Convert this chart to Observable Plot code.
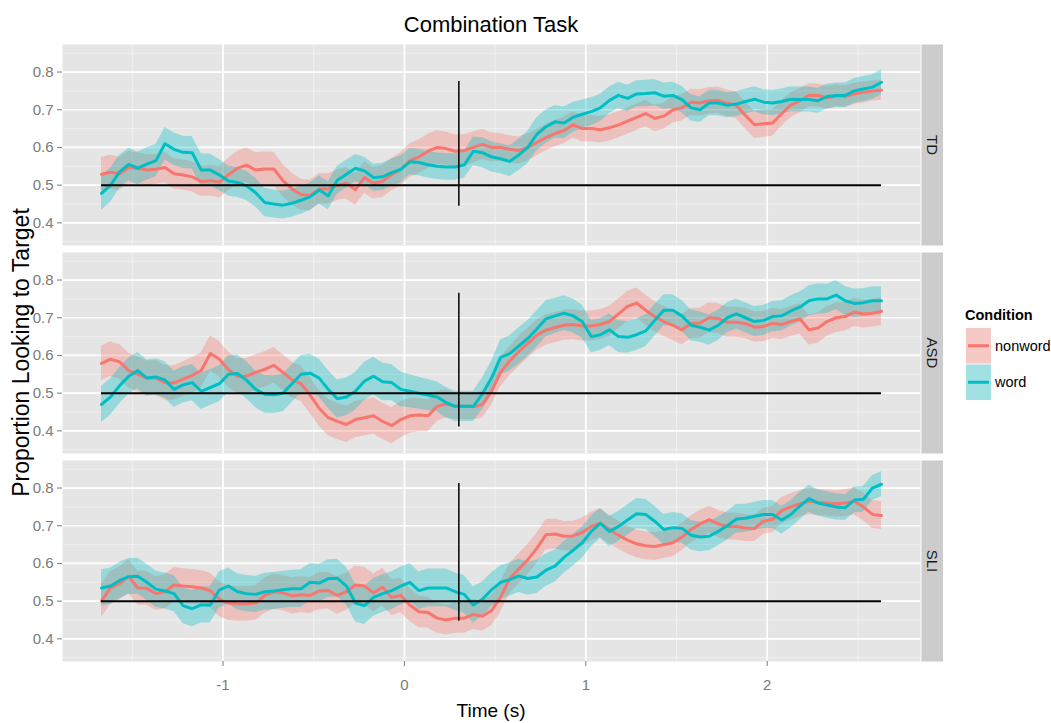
<!DOCTYPE html>
<html>
<head>
<meta charset="utf-8">
<script src="https://cdn.jsdelivr.net/npm/d3@7"></script>
<script src="https://cdn.jsdelivr.net/npm/@observablehq/plot@0.6"></script>
<style>
  html, body { margin: 0; padding: 0; background: #ffffff; }
  #chart { width: 1051px; height: 723px; }
</style>
</head>
<body>
<div id="chart"></div>
<script>
// ---------------- DATA ----------------
const times = [
  -1.67, -1.62, -1.57, -1.52, -1.47, -1.42, -1.37, -1.32, -1.27, -1.22,
  -1.17, -1.12, -1.07, -1.02, -0.97, -0.92, -0.87, -0.82, -0.77, -0.72,
  -0.67, -0.62, -0.57, -0.52, -0.47, -0.42, -0.37, -0.32, -0.27, -0.22,
  -0.17, -0.12, -0.07, -0.02, 0.03, 0.08, 0.13, 0.18, 0.23, 0.28,
  0.33, 0.38, 0.43, 0.48, 0.53, 0.58, 0.63, 0.68, 0.73, 0.78,
  0.83, 0.88, 0.93, 0.98, 1.03, 1.08, 1.13, 1.18, 1.23, 1.28,
  1.33, 1.38, 1.43, 1.48, 1.53, 1.58, 1.63, 1.68, 1.73, 1.78,
  1.83, 1.88, 1.93, 1.98, 2.03, 2.08, 2.13, 2.18, 2.23, 2.28,
  2.33, 2.38, 2.43, 2.48, 2.53, 2.58, 2.63
];

const tdNonword = [
  0.529, 0.534, 0.530, 0.547, 0.544, 0.540, 0.542, 0.547, 0.530, 0.527,
  0.522, 0.510, 0.512, 0.508, 0.528, 0.545, 0.553, 0.540, 0.543, 0.543,
  0.512, 0.490, 0.475, 0.473, 0.490, 0.490, 0.500, 0.505, 0.488, 0.520,
  0.505, 0.510, 0.528, 0.542, 0.565, 0.575, 0.590, 0.600, 0.597, 0.590,
  0.592, 0.600, 0.608, 0.600, 0.600, 0.595, 0.592, 0.600, 0.613, 0.626,
  0.637, 0.645, 0.660, 0.650, 0.650, 0.647, 0.652, 0.660, 0.670, 0.680,
  0.690, 0.677, 0.683, 0.700, 0.705, 0.720, 0.718, 0.724, 0.725, 0.717,
  0.712, 0.685, 0.660, 0.663, 0.665, 0.690, 0.712, 0.724, 0.738, 0.738,
  0.732, 0.737, 0.735, 0.742, 0.746, 0.750, 0.752
];
const tdWord = [
  0.478, 0.500, 0.535, 0.555, 0.545, 0.556, 0.565, 0.610, 0.595, 0.587,
  0.586, 0.540, 0.540, 0.527, 0.511, 0.507, 0.498, 0.480, 0.454, 0.450,
  0.447, 0.452, 0.460, 0.469, 0.487, 0.472, 0.513, 0.529, 0.545, 0.538,
  0.520, 0.522, 0.533, 0.542, 0.562, 0.560, 0.554, 0.550, 0.548, 0.548,
  0.554, 0.590, 0.586, 0.575, 0.570, 0.563, 0.580, 0.600, 0.635, 0.655,
  0.668, 0.665, 0.680, 0.688, 0.695, 0.705, 0.725, 0.738, 0.730, 0.742,
  0.743, 0.745, 0.736, 0.738, 0.727, 0.705, 0.700, 0.718, 0.718, 0.712,
  0.715, 0.722, 0.728, 0.720, 0.718, 0.722, 0.728, 0.727, 0.727, 0.724,
  0.735, 0.738, 0.738, 0.750, 0.755, 0.760, 0.773
];
const asdNonword = [
  0.579, 0.590, 0.583, 0.560, 0.550, 0.540, 0.540, 0.528, 0.527, 0.537,
  0.547, 0.560, 0.605, 0.590, 0.562, 0.545, 0.545, 0.555, 0.563, 0.574,
  0.555, 0.535, 0.525, 0.495, 0.460, 0.435, 0.425, 0.417, 0.430, 0.435,
  0.440, 0.425, 0.414, 0.430, 0.440, 0.442, 0.440, 0.465, 0.472, 0.465,
  0.465, 0.464, 0.470, 0.505, 0.555, 0.585, 0.610, 0.632, 0.654, 0.667,
  0.674, 0.680, 0.682, 0.678, 0.678, 0.682, 0.690, 0.710, 0.730, 0.739,
  0.720, 0.703, 0.690, 0.680, 0.668, 0.685, 0.686, 0.700, 0.698, 0.688,
  0.688, 0.685, 0.675, 0.677, 0.685, 0.682, 0.690, 0.697, 0.668, 0.673,
  0.690, 0.700, 0.703, 0.715, 0.710, 0.712, 0.717
];
const asdWord = [
  0.470, 0.490, 0.520, 0.545, 0.560, 0.540, 0.543, 0.535, 0.510, 0.522,
  0.528, 0.505, 0.515, 0.525, 0.550, 0.552, 0.534, 0.510, 0.497, 0.496,
  0.500, 0.525, 0.550, 0.553, 0.540, 0.510, 0.485, 0.490, 0.505, 0.532,
  0.545, 0.530, 0.528, 0.510, 0.505, 0.500, 0.495, 0.490, 0.475, 0.465,
  0.465, 0.465, 0.498, 0.540, 0.595, 0.605, 0.625, 0.645, 0.670, 0.697,
  0.705, 0.712, 0.705, 0.690, 0.650, 0.655, 0.668, 0.650, 0.648, 0.655,
  0.665, 0.693, 0.720, 0.720, 0.705, 0.680, 0.675, 0.667, 0.680, 0.700,
  0.710, 0.700, 0.690, 0.693, 0.703, 0.705, 0.718, 0.728, 0.745, 0.750,
  0.750, 0.760, 0.745, 0.738, 0.740, 0.745, 0.745
];
const sliNonword = [
  0.500, 0.535, 0.547, 0.565, 0.535, 0.534, 0.520, 0.525, 0.543, 0.540,
  0.538, 0.535, 0.528, 0.505, 0.495, 0.493, 0.493, 0.495, 0.515, 0.525,
  0.522, 0.514, 0.517, 0.515, 0.527, 0.528, 0.515, 0.525, 0.543, 0.540,
  0.522, 0.537, 0.510, 0.515, 0.490, 0.472, 0.470, 0.455, 0.450, 0.455,
  0.455, 0.465, 0.460, 0.475, 0.510, 0.560, 0.585, 0.610, 0.640, 0.676,
  0.678, 0.672, 0.673, 0.682, 0.698, 0.707, 0.690, 0.675, 0.662, 0.652,
  0.647, 0.645, 0.650, 0.655, 0.670, 0.690, 0.705, 0.716, 0.705, 0.698,
  0.698, 0.694, 0.693, 0.712, 0.717, 0.740, 0.750, 0.758, 0.765, 0.762,
  0.760, 0.758, 0.760, 0.765, 0.750, 0.730, 0.727
];
const sliWord = [
  0.535, 0.540, 0.555, 0.565, 0.566, 0.550, 0.532, 0.527, 0.520, 0.488,
  0.480, 0.490, 0.490, 0.530, 0.540, 0.525, 0.520, 0.518, 0.525, 0.527,
  0.530, 0.533, 0.533, 0.550, 0.548, 0.560, 0.561, 0.540, 0.495, 0.488,
  0.510, 0.520, 0.528, 0.540, 0.550, 0.528, 0.535, 0.535, 0.535, 0.525,
  0.518, 0.490, 0.505, 0.530, 0.550, 0.557, 0.567, 0.560, 0.564, 0.582,
  0.593, 0.616, 0.635, 0.655, 0.685, 0.706, 0.685, 0.698, 0.715, 0.732,
  0.730, 0.712, 0.690, 0.695, 0.693, 0.675, 0.670, 0.672, 0.685, 0.700,
  0.718, 0.720, 0.725, 0.730, 0.730, 0.715, 0.730, 0.752, 0.772, 0.760,
  0.755, 0.750, 0.748, 0.768, 0.770, 0.800, 0.810
];

// half-widths of the shaded ribbons
const tdNonwordSe = [
  0.045, 0.045, 0.044, 0.043, 0.042, 0.041, 0.040, 0.040, 0.040, 0.040,
  0.040, 0.040, 0.041, 0.042, 0.043, 0.045, 0.046, 0.046, 0.045, 0.044,
  0.043, 0.042, 0.041, 0.040, 0.040, 0.040, 0.041, 0.042, 0.042, 0.042,
  0.042, 0.043, 0.043, 0.044, 0.045, 0.045, 0.045, 0.045, 0.044, 0.043,
  0.042, 0.041, 0.040, 0.038, 0.037, 0.036, 0.036, 0.036, 0.035, 0.035,
  0.035, 0.035, 0.035, 0.035, 0.035, 0.035, 0.035, 0.035, 0.035, 0.035,
  0.035, 0.035, 0.035, 0.035, 0.035, 0.035, 0.035, 0.035, 0.035, 0.035,
  0.036, 0.036, 0.036, 0.036, 0.035, 0.034, 0.033, 0.032, 0.031, 0.030,
  0.030, 0.029, 0.029, 0.028, 0.028, 0.027, 0.027
];
const tdWordSe = [
  0.045, 0.045, 0.044, 0.043, 0.043, 0.043, 0.043, 0.043, 0.043, 0.043,
  0.043, 0.043, 0.042, 0.041, 0.040, 0.040, 0.039, 0.038, 0.038, 0.037,
  0.037, 0.037, 0.037, 0.037, 0.037, 0.037, 0.037, 0.037, 0.036, 0.036,
  0.036, 0.036, 0.036, 0.036, 0.035, 0.035, 0.035, 0.035, 0.035, 0.035,
  0.036, 0.038, 0.040, 0.040, 0.040, 0.041, 0.042, 0.043, 0.044, 0.044,
  0.043, 0.042, 0.040, 0.038, 0.037, 0.036, 0.035, 0.035, 0.035, 0.035,
  0.035, 0.035, 0.035, 0.035, 0.035, 0.035, 0.034, 0.034, 0.034, 0.033,
  0.033, 0.033, 0.033, 0.033, 0.033, 0.033, 0.033, 0.033, 0.033, 0.033,
  0.033, 0.033, 0.033, 0.033, 0.033, 0.033, 0.033
];
const asdNonwordSe = [
  0.046, 0.046, 0.046, 0.046, 0.046, 0.046, 0.046, 0.046, 0.046, 0.046,
  0.047, 0.047, 0.047, 0.047, 0.047, 0.047, 0.047, 0.047, 0.047, 0.047,
  0.047, 0.047, 0.047, 0.048, 0.048, 0.048, 0.048, 0.048, 0.048, 0.048,
  0.048, 0.048, 0.048, 0.048, 0.046, 0.044, 0.042, 0.040, 0.037, 0.035,
  0.035, 0.035, 0.036, 0.037, 0.038, 0.039, 0.040, 0.040, 0.040, 0.040,
  0.040, 0.040, 0.040, 0.040, 0.040, 0.040, 0.040, 0.040, 0.040, 0.040,
  0.040, 0.040, 0.040, 0.040, 0.040, 0.040, 0.040, 0.040, 0.040, 0.040,
  0.040, 0.040, 0.040, 0.040, 0.040, 0.040, 0.040, 0.040, 0.040, 0.040,
  0.039, 0.039, 0.038, 0.038, 0.037, 0.037, 0.037
];
const asdWordSe = [
  0.048, 0.048, 0.048, 0.048, 0.048, 0.048, 0.048, 0.048, 0.048, 0.048,
  0.048, 0.048, 0.048, 0.048, 0.049, 0.049, 0.049, 0.049, 0.050, 0.050,
  0.050, 0.050, 0.050, 0.050, 0.050, 0.050, 0.050, 0.050, 0.050, 0.050,
  0.050, 0.050, 0.048, 0.046, 0.044, 0.042, 0.041, 0.040, 0.040, 0.040,
  0.040, 0.040, 0.042, 0.044, 0.046, 0.047, 0.048, 0.048, 0.048, 0.048,
  0.047, 0.046, 0.045, 0.044, 0.043, 0.042, 0.042, 0.042, 0.042, 0.042,
  0.042, 0.042, 0.041, 0.041, 0.041, 0.041, 0.040, 0.040, 0.040, 0.040,
  0.040, 0.040, 0.040, 0.040, 0.040, 0.040, 0.040, 0.040, 0.040, 0.040,
  0.039, 0.039, 0.038, 0.038, 0.037, 0.037, 0.037
];
const sliNonwordSe = [
  0.044, 0.044, 0.044, 0.045, 0.045, 0.045, 0.045, 0.046, 0.046, 0.046,
  0.046, 0.046, 0.046, 0.046, 0.046, 0.046, 0.046, 0.046, 0.047, 0.047,
  0.047, 0.048, 0.048, 0.048, 0.049, 0.049, 0.050, 0.050, 0.050, 0.050,
  0.050, 0.050, 0.048, 0.046, 0.044, 0.042, 0.041, 0.040, 0.040, 0.040,
  0.040, 0.040, 0.040, 0.040, 0.040, 0.040, 0.040, 0.040, 0.040, 0.040,
  0.040, 0.039, 0.039, 0.038, 0.038, 0.038, 0.037, 0.037, 0.037, 0.037,
  0.037, 0.037, 0.037, 0.037, 0.036, 0.036, 0.036, 0.036, 0.036, 0.036,
  0.036, 0.036, 0.035, 0.035, 0.035, 0.035, 0.035, 0.035, 0.035, 0.035,
  0.035, 0.035, 0.036, 0.036, 0.037, 0.037, 0.037
];
const sliWordSe = [
  0.048, 0.048, 0.048, 0.048, 0.048, 0.048, 0.048, 0.048, 0.048, 0.048,
  0.048, 0.048, 0.048, 0.048, 0.048, 0.048, 0.048, 0.048, 0.049, 0.049,
  0.049, 0.049, 0.050, 0.050, 0.050, 0.050, 0.050, 0.050, 0.050, 0.050,
  0.050, 0.050, 0.050, 0.050, 0.050, 0.050, 0.050, 0.050, 0.050, 0.050,
  0.050, 0.048, 0.046, 0.045, 0.044, 0.044, 0.044, 0.044, 0.044, 0.043,
  0.043, 0.042, 0.042, 0.041, 0.041, 0.040, 0.040, 0.040, 0.040, 0.040,
  0.040, 0.040, 0.040, 0.040, 0.039, 0.039, 0.039, 0.038, 0.038, 0.038,
  0.038, 0.037, 0.037, 0.037, 0.037, 0.037, 0.036, 0.036, 0.036, 0.035,
  0.035, 0.035, 0.034, 0.034, 0.034, 0.033, 0.033
];

const groups = ["TD", "ASD", "SLI"];
const conditions = ["nonword", "word"];
const conditionColors = ["#F8766D", "#00BFC4"];

const xTicks = [-1, 0, 1, 2];
const xMinorTicks = [-1.5, -0.5, 0.5, 1.5, 2.5];
const yTicks = [0.4, 0.5, 0.6, 0.7, 0.8];
const yMinorTicks = [0.35, 0.45, 0.55, 0.65, 0.75, 0.85];
const yDomain = [0.34, 0.873];

const chanceLevel = 0.5;
const onsetTime = 0.3;
const onsetTop = [0.775, 0.765, 0.812];
const onsetBottom = [0.444, 0.410, 0.447];

const titleText = "Combination Task";
const xLabel = "Time (s)";
const yLabel = "Proportion Looking to Target";
const legendTitle = "Condition";

// ---------------- build table ----------------
const meanSeries = {
  TD: { nonword: tdNonword, word: tdWord },
  ASD: { nonword: asdNonword, word: asdWord },
  SLI: { nonword: sliNonword, word: sliWord }
};
const seSeries = {
  TD: { nonword: tdNonwordSe, word: tdWordSe },
  ASD: { nonword: asdNonwordSe, word: asdWordSe },
  SLI: { nonword: sliNonwordSe, word: sliWordSe }
};
const rows = [];
for (const g of groups) for (const c of conditions) {
  const m = meanSeries[g][c], s = seSeries[g][c];
  if (m.length !== times.length || s.length !== times.length) throw new Error(`length mismatch ${g} ${c}: ${m.length} ${s.length}`);
  times.forEach((t, i) => rows.push({ group: g, condition: c, time: t, mean: m[i], lo: m[i] - s[i], hi: m[i] + s[i] }));
}
const tMin = d3.min(times), tMax = d3.max(times);
const xPad = (tMax - tMin) * 0.05;
const chanceRows = groups.map(g => ({ group: g, y: chanceLevel, x1: tMin, x2: tMax }));
const onsetRows = groups.map((g, i) => ({ group: g, x: onsetTime, y1: onsetBottom[i], y2: onsetTop[i] }));

const font = "'Liberation Sans', Arial, Helvetica, sans-serif";
const tickColor = "#7A7A7A";

const plot = Plot.plot({
  width: 1051,
  height: 723,
  marginTop: 43,
  marginBottom: 61,
  marginLeft: 62,
  marginRight: 131,
  style: { fontFamily: font, fontSize: "15px", background: "#ffffff", overflow: "visible" },
  x: { domain: [tMin - xPad, tMax + xPad], label: null },
  y: { domain: yDomain, label: null },
  fy: { domain: groups, paddingInner: 0.0335, paddingOuter: 0, axis: null, label: null },
  color: { domain: conditions, range: conditionColors },
  marks: [
    Plot.frame({ fill: "#E5E5E5", stroke: null }),
    Plot.ruleX(xMinorTicks, { stroke: "#F2F2F2", strokeWidth: 0.9 }),
    Plot.ruleY(yMinorTicks, { stroke: "#F2F2F2", strokeWidth: 0.9 }),
    Plot.ruleX(xTicks, { stroke: "#FFFFFF", strokeWidth: 1.7 }),
    Plot.ruleY(yTicks, { stroke: "#FFFFFF", strokeWidth: 1.7 }),
    Plot.areaY(rows, { x: "time", y1: "lo", y2: "hi", fy: "group", fill: "condition", z: "condition", fillOpacity: 0.33 }),
    Plot.lineY(rows, { x: "time", y: "mean", fy: "group", stroke: "condition", z: "condition", strokeWidth: 3 }),
    Plot.ruleY(chanceRows, { y: "y", x1: "x1", x2: "x2", fy: "group", stroke: "#000000", strokeWidth: 2 }),
    Plot.ruleX(onsetRows, { x: "x", y1: "y1", y2: "y2", fy: "group", stroke: "#000000", strokeWidth: 1.5 }),
    Plot.axisY(yTicks, { tickSize: 5, tickPadding: 4, fontSize: 15, color: tickColor, tickFormat: d => d.toFixed(1), label: null }),
    Plot.axisX(xTicks, { tickSize: 5, tickPadding: 13, fontSize: 15, color: tickColor, tickFormat: d => String(d), label: null })
  ]
});

document.getElementById("chart").append(plot);
const svgEl = plot.tagName.toLowerCase() === "svg" ? plot : plot.querySelector("svg");
const sb = svgEl.getBoundingClientRect();
const svg = d3.select(svgEl);

// facet strips (drawn from the panel frames Plot produced)
const frameBoxes = Array.from(svgEl.querySelectorAll('g[aria-label="frame"] rect'))
  .map(r => r.getBoundingClientRect())
  .sort((a, b) => a.top - b.top);
frameBoxes.forEach((r, i) => {
  const top = r.top - sb.top, bottom = r.bottom - sb.top, right = r.right - sb.left;
  svg.append("rect").attr("x", right + 1).attr("y", top).attr("width", 21.5).attr("height", bottom - top).attr("fill", "#CCCCCC");
  svg.append("text")
    .attr("transform", `translate(${right + 12},${(top + bottom) / 2}) rotate(90)`)
    .attr("text-anchor", "middle").attr("dominant-baseline", "central")
    .attr("font-size", 15).attr("fill", "#1A1A1A").text(groups[i]);
});

// titles
const left = 62, right = 1051 - 131;
svg.append("text").attr("x", (left + right) / 2).attr("y", 32).attr("text-anchor", "middle")
  .attr("font-size", 22).attr("fill", "#000").text(titleText);
svg.append("text").attr("x", (left + right) / 2).attr("y", 717).attr("text-anchor", "middle")
  .attr("font-size", 19).attr("fill", "#000").text(xLabel);
svg.append("text").attr("transform", `translate(29,${(43 + 662) / 2}) rotate(-90)`).attr("text-anchor", "middle")
  .attr("font-size", 23).attr("fill", "#000").text(yLabel);

// legend
const lg = svg.append("g").attr("transform", "translate(965,0)").attr("text-anchor", "start");
lg.append("text").attr("x", 0).attr("y", 320).attr("text-anchor", "start").attr("font-size", 14.5).attr("font-weight", "bold").attr("fill", "#000").text(legendTitle);
conditions.forEach((c, i) => {
  const y0 = 328 + i * 36.5;
  lg.append("rect").attr("x", 1).attr("y", y0).attr("width", 25).attr("height", 35.5).attr("fill", "#F2F2F2");
  lg.append("rect").attr("x", 1).attr("y", y0).attr("width", 25).attr("height", 35.5).attr("fill", conditionColors[i]).attr("fill-opacity", 0.33);
  lg.append("line").attr("x1", 3).attr("x2", 24).attr("y1", y0 + 17.75).attr("y2", y0 + 17.75)
    .attr("stroke", conditionColors[i]).attr("stroke-width", 3);
  lg.append("text").attr("x", 30).attr("y", y0 + 17.75).attr("text-anchor", "start").attr("dominant-baseline", "central")
    .attr("font-size", 14.5).attr("fill", "#000").text(c);
});
</script>
</body>
</html>
